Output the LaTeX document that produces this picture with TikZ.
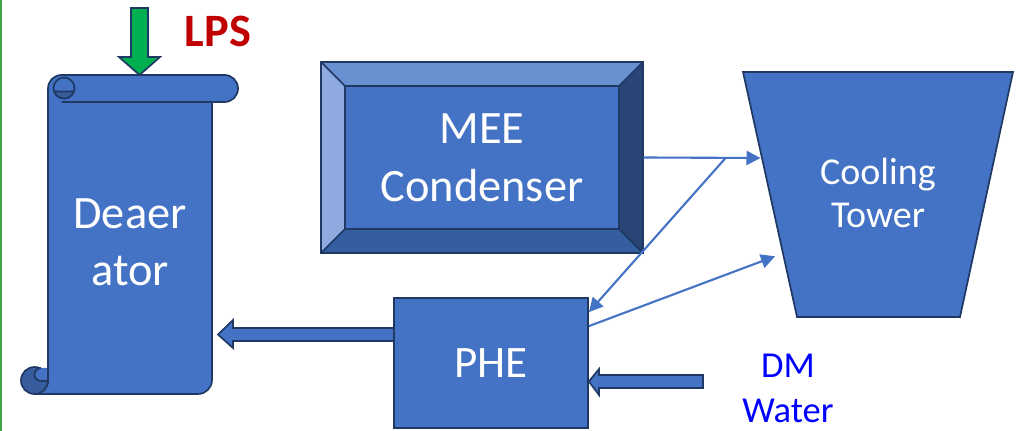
\documentclass[tikz,border=0pt]{standalone}
\usepackage{fontspec}
\setmainfont{Carlito}
\usetikzlibrary{arrows.meta, calc, backgrounds}
\definecolor{plantblue}{RGB}{68,114,196}
\definecolor{edgenavy}{RGB}{31,56,100}
\definecolor{steamgreen}{RGB}{0,176,80}
\definecolor{lpsred}{RGB}{192,0,0}
\definecolor{dmblue}{RGB}{0,0,255}
\definecolor{bevtop}{RGB}{105,145,210}
\definecolor{bevleft}{RGB}{142,170,222}
\definecolor{bevright}{RGB}{41,69,118}
\definecolor{bevbottom}{RGB}{53,94,160}
\definecolor{curldark}{RGB}{56,93,158}
\definecolor{borderline}{RGB}{60,165,70}

\begin{document}
\begin{tikzpicture}[
  x=0.025cm, y=-0.025cm,
  vessel/.style={fill=plantblue, draw=edgenavy, line width=1.2pt},
  unittext/.style={text=white, align=center},
  flow/.style={-{Triangle[length=10pt,width=10pt]}, line width=1.5pt, color=plantblue},
  fat/.style={fill=plantblue, draw=edgenavy, line width=1.2pt, line join=miter}
]
  \useasboundingbox (0,0) rectangle (1025,431);
  \fill[borderline] (0,0) rectangle (2,431);

  % deaerator (scroll)
  \draw[vessel] (48,95) -- (48,380.5) arc[start angle=0,end angle=90,radius=13.5]
    -- (198,394) arc[start angle=90,end angle=0,radius=14] -- (212,95);
  \draw[vessel, fill=curldark] (34.5,380.5) circle (13.5);
  \draw[vessel] (48,368) -- (48,381) -- (41,381) arc[start angle=90,end angle=270,radius=6.5];
  \draw[vessel] (48,102) -- (48,88.5) arc[start angle=180,end angle=270,radius=13.5]
    -- (224.5,75) arc[start angle=270,end angle=450,radius=13.5] -- (61.5,102);
  \draw[vessel] (64,88) circle (10.5);
  \draw[vessel, fill=curldark] ($(64,88)+(20:10.5)$) arc[start angle=20,end angle=160,radius=10.5] -- cycle;
  \node[unittext, font=\fontsize{33}{40.5}\selectfont] (dea) at (130,242) {Deaer\\ator};

  % steam in
  \draw[vessel, fill=steamgreen] (131,8) -- (148,8) -- (148,57) -- (160,57) -- (139.5,75)
    -- (119,57) -- (131,57) -- cycle;
  \node[text=lpsred, font=\fontsize{33}{40}\selectfont\bfseries] (lps) at (218,31) {LPS};

  % condenser with bevel
  \node[unittext, minimum width=8.05cm, minimum height=4.775cm,
    font=\fontsize{33}{41}\selectfont] (mee) at (482,157.5) {MEE\\Condenser};
  \begin{scope}[on background layer]
    \coordinate (mi nw) at ($(mee.north west)+(24,24)$);
    \coordinate (mi ne) at ($(mee.north east)+(-24,24)$);
    \coordinate (mi se) at ($(mee.south east)+(-24,-24)$);
    \coordinate (mi sw) at ($(mee.south west)+(24,-24)$);
    \fill[bevtop] (mee.north west) -- (mee.north east) -- (mi ne) -- (mi nw) -- cycle;
    \fill[bevright] (mee.north east) -- (mee.south east) -- (mi se) -- (mi ne) -- cycle;
    \fill[bevbottom] (mee.south east) -- (mee.south west) -- (mi sw) -- (mi se) -- cycle;
    \fill[bevleft] (mee.south west) -- (mee.north west) -- (mi nw) -- (mi sw) -- cycle;
    \draw[vessel] (mi nw) rectangle (mi se);
    \draw[edgenavy, line width=1.2pt] (mee.north west) rectangle (mee.south east);
    \draw[edgenavy, line width=1.2pt] (mee.north west) -- (mi nw) (mee.north east) -- (mi ne)
      (mee.south east) -- (mi se) (mee.south west) -- (mi sw);
  \end{scope}

  % cooling tower
  \coordinate (tw nw) at (743,72);
  \coordinate (tw ne) at (1013,72);
  \coordinate (tw se) at (960,317);
  \coordinate (tw sw) at (797,317);
  \draw[vessel] (tw nw) -- (tw ne) -- (tw se) -- (tw sw) -- cycle;
  \node[unittext, font=\fontsize{27}{30.5}\selectfont] (tower) at (878,193) {Cooling\\Tower};

  % plate heat exchanger
  \node[vessel, unittext, minimum width=4.85cm, minimum height=3.25cm,
    font=\fontsize{32}{38}\selectfont] (phe) at (491,363) {PHE};

  % feed lines
  \begin{scope}[on background layer]
    \draw[fat] (phe.west |- 0,328) -- (233,328) -- (233,320) -- (218,334.5) -- (233,348)
      -- (233,341) -- (phe.west |- 0,341);
  \end{scope}
  \draw[fat] (703,375) -- (599,375) -- (599,369) -- (phe.east |- 0,381.5) -- (599,395)
    -- (599,388) -- (703,388) -- cycle;
  \node[text=dmblue, align=center, font=\fontsize{26}{32}\selectfont] (dm) at (788,388) {DM\\Water};

  % cooling water
  \coordinate (split) at (mee.east -| 726,0);
  \draw[flow, shorten >=1pt] (mee.east) -- ($(tw nw)!0.351!(tw sw)$);
  \draw[flow] (split) -- ($(phe.north east)+(0,15)$);
  \draw[flow, shorten >=6pt] ($(phe.north east)+(0,29)$) -- ($(tw nw)!0.74!(tw sw)$);
\end{tikzpicture}
\end{document}
